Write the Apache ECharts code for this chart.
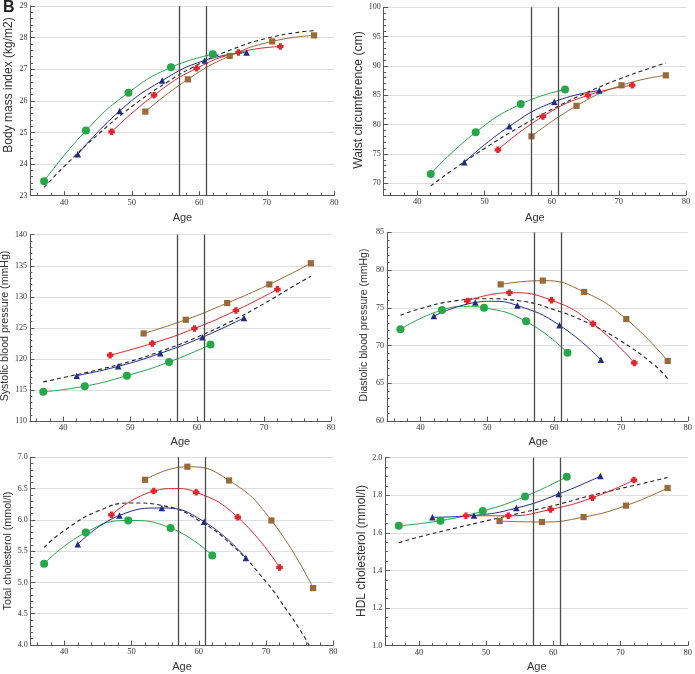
<!DOCTYPE html>
<html><head><meta charset="utf-8">
<script src="https://cdn.jsdelivr.net/npm/echarts@6/dist/echarts.min.js"></script>
<style>html,body{margin:0;padding:0;background:#fff}#c{width:695px;height:674px}</style>
</head><body><div id="c"></div>
<script>
// ---- ages at survey waves, per birth cohort ----
const ageGreen = [37, 43.2, 49.5, 55.8, 62];
const ageBlue = [42, 48.2, 54.5, 60.8, 67];
const ageRed = [47, 53.3, 59.6, 65.8, 72];
const ageBrown = [52, 58.3, 64.5, 70.8, 77];
const ageDashed = [37, 40, 45, 50, 55, 60, 65, 70, 75, 77];
// waist measured at 4 waves only
const waistAgeGreen = [42, 48.7, 55.4, 62];
const waistAgeBlue = [47, 53.7, 60.4, 67.1];
const waistAgeRed = [52, 58.7, 65.4, 72];
const waistAgeBrown = [57, 63.7, 70.4, 77];
const waistAgeDashed = [42, 45, 50, 55, 60, 65, 70, 75, 77];
const cholAgeDashed = [37, 40, 45, 50, 55, 60, 65, 70, 73, 75, 76.4];

// ---- values ----
const bmiGreen = [23.46, 25.06, 26.26, 27.06, 27.47];
const bmiBlue = [24.31, 25.68, 26.64, 27.28, 27.53];
const bmiRed = [25.02, 26.18, 27.03, 27.53, 27.72];
const bmiBrown = [25.66, 26.68, 27.42, 27.88, 28.07];
const bmiDashed = [23.26, 23.93, 24.94, 25.82, 26.56, 27.17, 27.64, 27.98, 28.18, 28.22];

const waistGreen = [71.6, 78.7, 83.5, 86.0];
const waistBlue = [73.6, 79.7, 83.9, 85.8];
const waistRed = [75.7, 81.4, 85.0, 86.7];
const waistBrown = [78.0, 83.2, 86.7, 88.4];
const waistDashed = [69.55, 72.05, 75.92, 79.43, 82.57, 85.34, 87.74, 89.78, 90.5];

const sbpGreen = [114.7, 115.6, 117.3, 119.5, 122.3];
const sbpBlue = [117.3, 118.8, 120.9, 123.5, 126.6];
const sbpRed = [120.6, 122.5, 124.9, 127.8, 131.2];
const sbpBrown = [124.1, 126.3, 129.0, 132.0, 135.4];
const sbpDashed = [116.3, 117.0, 118.2, 119.6, 121.4, 123.5, 126.0, 128.9, 132.1, 133.3];

const dbpGreen = [72.15, 74.7, 75.0, 73.2, 69.05];
const dbpBlue = [73.9, 75.7, 75.3, 72.7, 68.1];
const dbpRed = [75.9, 77.0, 76.0, 72.9, 67.7];
const dbpBrown = [78.1, 78.6, 77.1, 73.5, 67.95];
const dbpDashed = [74.0, 74.9, 75.9, 76.2, 75.9, 74.75, 73.0, 70.6, 67.4, 65.6];
// curve tops read between markers: [age, value]
const dbpGreenTop = [47.1, 75.19];
const dbpBlueTop = [50.6, 75.86];

const tcGreen = [5.30, 5.80, 5.99, 5.87, 5.43];
const tcBlue = [5.61, 6.07, 6.19, 5.97, 5.39];
const tcRed = [6.08, 6.46, 6.44, 6.04, 5.24];
const tcBrown = [6.64, 6.85, 6.63, 5.99, 4.91];
const tcDashed = [5.56, 5.83, 6.14, 6.27, 6.22, 5.99, 5.59, 5.01, 4.57, 4.25, 4.0];
const tcRedTop = [56.4, 6.50];

const hdlGreen = [1.638, 1.665, 1.716, 1.794, 1.899];
const hdlBlue = [1.683, 1.693, 1.732, 1.807, 1.902];
const hdlRed = [1.691, 1.691, 1.725, 1.787, 1.881];
const hdlBrown = [1.663, 1.658, 1.684, 1.745, 1.839];
const hdlDashed = [1.548, 1.578, 1.622, 1.664, 1.705, 1.745, 1.793, 1.836, 1.877, 1.895];

// ---- reference lines and ticks ----
const refAges = [57, 61];
const xTickLabels = [40, 50, 60, 70, 80];
const bmiTicks = [23, 24, 25, 26, 27, 28, 29];
const waistTicks = [70, 75, 80, 85, 90, 95, 100];
const sbpTicks = [110, 115, 120, 125, 130, 135, 140];
const dbpTicks = [60, 65, 70, 75, 80, 85];
const tcTicks = [4.0, 4.5, 5.0, 5.5, 6.0, 6.5, 7.0];
const hdlTicks = [1.0, 1.2, 1.4, 1.6, 1.8, 2.0];

const titles = ['Body mass index (kg/m2)', 'Waist circumference (cm)', 'Systolic blood pressure (mmHg)',
  'Diastolic blood pressure (mmHg)', 'Total cholesterol (mmol/l)', 'HDL cholesterol (mmol/l)'];

// ---- styling / layout ----
const COL = { green: '#25a849', blue: '#1f2c85', red: '#e4232b', brown: '#9a6a36', dash: '#222' };
const PLUS = 'path://M2.6,0H7.4V2.6H10V7.4H7.4V10H2.6V7.4H0V2.6H2.6Z';

function steps(a, b, s) { const out = []; const n = Math.round((b - a) / s); for (let i = 0; i <= n; i++) out.push(+(a + i * s).toFixed(4)); return out; }
function minorOf(a, b, s, majors) { return steps(a, b, s).filter(v => !majors.some(m => Math.abs(m - v) < 1e-6)); }
function pairs(xs, ys) { return xs.map((x, i) => [x, ys[i]]); }

const panels = [
  { grid: { left: 30.6, top: 6, width: 303.7, height: 189.7 }, yMin: 23, yMax: 29, ticks: bmiTicks, minorStep: 0.2, dec: 0,
    title: { x: 8.5, y: 85, size: 12 },
    groups: [[ageGreen, bmiGreen], [ageBlue, bmiBlue], [ageRed, bmiRed], [ageBrown, bmiBrown]], dashed: [ageDashed, bmiDashed] },
  { grid: { left: 383.7, top: 7.3, width: 302.3, height: 187.7 }, yMin: 68, yMax: 100, ticks: waistTicks, minorStep: 1, dec: 0,
    title: { x: 359, y: 100, size: 12.2 },
    groups: [[waistAgeGreen, waistGreen], [waistAgeBlue, waistBlue], [waistAgeRed, waistRed], [waistAgeBrown, waistBrown]], dashed: [waistAgeDashed, waistDashed] },
  { grid: { left: 29.9, top: 234.7, width: 301, height: 186.3 }, yMin: 110, yMax: 140, ticks: sbpTicks, minorStep: 1, dec: 0,
    title: { x: 5.5, y: 326, size: 10.6 },
    groups: [[ageGreen, sbpGreen], [ageBlue, sbpBlue], [ageRed, sbpRed], [ageBrown, sbpBrown]], dashed: [ageDashed, sbpDashed] },
  { grid: { left: 387.1, top: 232.3, width: 302.2, height: 188.7 }, yMin: 60, yMax: 85, ticks: dbpTicks, minorStep: 1, dec: 0,
    title: { x: 364, y: 325, size: 10.5 },
    groups: [[ageGreen, dbpGreen, dbpGreenTop], [ageBlue, dbpBlue, dbpBlueTop], [ageRed, dbpRed], [ageBrown, dbpBrown]], dashed: [ageDashed, dbpDashed] },
  { grid: { left: 30.7, top: 457.3, width: 302.6, height: 187.7 }, yMin: 4, yMax: 7, ticks: tcTicks, minorStep: 0.1, dec: 1,
    title: { x: 7.7, y: 551, size: 10.7 },
    groups: [[ageGreen, tcGreen], [ageBlue, tcBlue], [ageRed, tcRed, tcRedTop], [ageBrown, tcBrown]], dashed: [cholAgeDashed, tcDashed] },
  { grid: { left: 385.3, top: 457.7, width: 303, height: 188 }, yMin: 1, yMax: 2, ticks: hdlTicks, minorStep: 0.05, dec: 1,
    title: { x: 361.5, y: 551, size: 12 },
    groups: [[ageGreen, hdlGreen], [ageBlue, hdlBlue], [ageRed, hdlRed], [ageBrown, hdlBrown]], dashed: [ageDashed, hdlDashed] }
];
const ageLabelY = [218, 218, 442, 442, 667, 667];

const AXIS_COL = '#555';
const LABEL_FONT = 'Liberation Serif';
const SANS = 'Liberation Sans';
const xMinor = minorOf(36, 80, 2, xTickLabels);

const grids = [], xAxes = [], yAxes = [], series = [], graphics = [];
const styles = [
  { color: COL.green, symbol: 'circle', size: 8 },
  { color: COL.blue, symbol: 'triangle', size: 6.5 },
  { color: COL.red, symbol: PLUS, size: 6.5 },
  { color: COL.brown, symbol: 'rect', size: 6.2 }
];

panels.forEach((p, i) => {
  grids.push(Object.assign({ containLabel: false }, p.grid));
  const xi = xAxes.length, yi = yAxes.length;
  xAxes.push({
    gridIndex: i, type: 'value', min: 35, max: 80, position: 'bottom',
    axisLine: { show: true, onZero: false, lineStyle: { color: AXIS_COL, width: 1 } },
    axisTick: { show: true, inside: true, length: 4.5, customValues: xTickLabels, lineStyle: { color: AXIS_COL } },
    axisLabel: { customValues: xTickLabels, fontFamily: LABEL_FONT, fontSize: 8.5, color: '#333', margin: 2.5 },
    splitLine: { show: false }
  });
  xAxes.push({
    gridIndex: i, type: 'value', min: 35, max: 80, position: 'bottom',
    axisLine: { show: false, onZero: false },
    axisTick: { show: true, inside: true, length: 2.5, customValues: xMinor, lineStyle: { color: AXIS_COL } },
    axisLabel: { show: false }, splitLine: { show: false }
  });
  yAxes.push({
    gridIndex: i, type: 'value', min: p.yMin, max: p.yMax, position: 'left',
    axisLine: { show: true, onZero: false, lineStyle: { color: AXIS_COL, width: 1 } },
    axisTick: { show: true, inside: true, length: 4.5, customValues: p.ticks, lineStyle: { color: AXIS_COL } },
    axisLabel: { customValues: p.ticks, fontFamily: LABEL_FONT, fontSize: 8, color: '#333', margin: 3,
      formatter: v => p.dec ? Number(v).toFixed(p.dec) : String(v) },
    splitLine: { show: true, lineStyle: { color: '#dedede', width: 1 } }
  });
  yAxes.push({
    gridIndex: i, type: 'value', min: p.yMin, max: p.yMax, position: 'left',
    axisLine: { show: false, onZero: false },
    axisTick: { show: true, inside: true, length: 2.5, customValues: minorOf(p.yMin, p.yMax, p.minorStep, p.ticks), lineStyle: { color: AXIS_COL } },
    axisLabel: { show: false }, splitLine: { show: false }
  });
  // dashed overall curve + reference lines
  series.push({
    type: 'line', xAxisIndex: xi, yAxisIndex: yi, data: pairs(p.dashed[0], p.dashed[1]),
    smooth: 0.5, showSymbol: false, symbol: 'none', z: 3,
    lineStyle: { color: COL.dash, width: 1.1, type: [4, 3] },
    markLine: { silent: true, symbol: 'none', label: { show: false }, animation: false,
      lineStyle: { type: 'solid', color: '#4a4a4a', width: 1.3 },
      data: refAges.map(a => ({ xAxis: a })) }
  });
  p.groups.forEach((g, k) => {
    const s = styles[k];
    let data = pairs(g[0], g[1]).map(v => ({ value: v }));
    if (g[2]) {
      data.push({ value: g[2], symbol: 'none', symbolSize: 0 });
      data.sort((a, b) => a.value[0] - b.value[0]);
    }
    series.push({
      type: 'line', xAxisIndex: xi, yAxisIndex: yi, data: data,
      smooth: 0.5, symbol: s.symbol, symbolSize: s.size, showSymbol: true, showAllSymbol: true, z: 4,
      lineStyle: { color: s.color, width: 1 }, itemStyle: { color: s.color, borderWidth: 0 }
    });
  });
  graphics.push({
    type: 'text', x: p.title.x, y: p.title.y, rotation: Math.PI / 2,
    style: { text: titles[i], font: p.title.size + 'px "' + SANS + '"', fill: '#333', textAlign: 'center', textVerticalAlign: 'middle' }
  });
  graphics.push({
    type: 'text', x: p.grid.left + p.grid.width / 2, y: ageLabelY[i],
    style: { text: 'Age', font: '11px "' + SANS + '"', fill: '#333', textAlign: 'center', textVerticalAlign: 'middle' }
  });
});
graphics.push({ type: 'text', x: 3, y: 0, style: { text: 'B', font: 'bold 16px "' + SANS + '"', fill: '#222', textAlign: 'left', textVerticalAlign: 'top' } });

const chart = echarts.init(document.getElementById('c'), null, { renderer: 'canvas' });
chart.setOption({
  animation: false, backgroundColor: '#fff',
  grid: grids, xAxis: xAxes, yAxis: yAxes, series: series, graphic: graphics
});
</script></body></html>
